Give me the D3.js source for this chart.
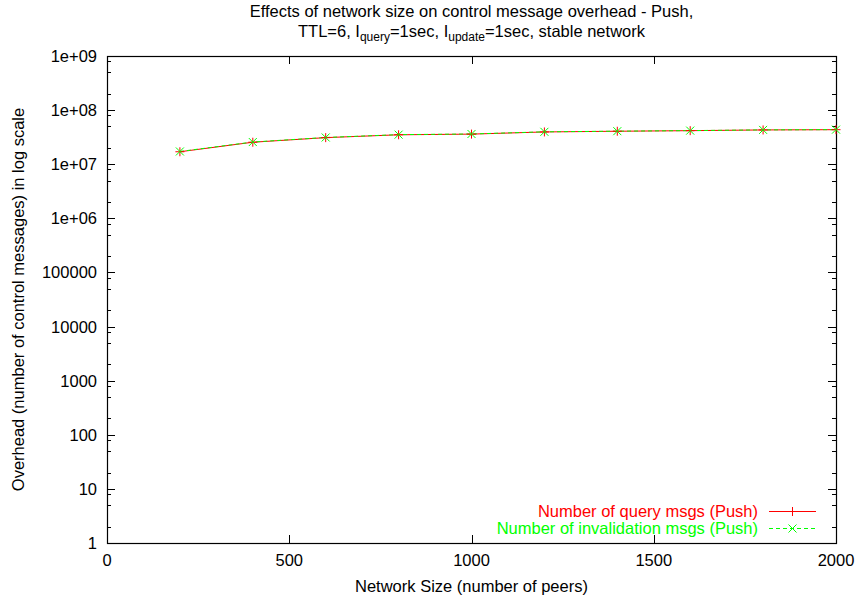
<!DOCTYPE html>
<html>
<head>
<meta charset="utf-8">
<script src="https://cdn.jsdelivr.net/npm/d3@7"></script>
<style>
  body { margin: 0; background: #fff; }
  svg { font-family: "Liberation Sans", Arial, sans-serif; }
</style>
</head>
<body>
<svg id="chart" width="859" height="600"></svg>
<script>
// network sizes (peers)
const networkSizes = [200, 400, 600, 800, 1000, 1200, 1400, 1600, 1800, 2000];
// control message counts
const queryMsgs = [1.7e7, 2.55e7, 3.1e7, 3.5e7, 3.6e7, 3.95e7, 4.07e7, 4.17e7, 4.3e7, 4.35e7];
const invalidationMsgs = [1.72e7, 2.57e7, 3.12e7, 3.52e7, 3.62e7, 3.97e7, 4.08e7, 4.18e7, 4.31e7, 4.36e7];

const xTicks = [0, 500, 1000, 1500, 2000];
const yTicks = [1, 10, 100, 1000, 10000, 100000, 1e6, 1e7, 1e8, 1e9];
const yTickLabels = ["1", "10", "100", "1000", "10000", "100000", "1e+06", "1e+07", "1e+08", "1e+09"];

const svg = d3.select("#chart");
const pLeft = 107, pRight = 836, pTop = 56, pBottom = 543;
const fs = 16.5;

const x = d3.scaleLinear().domain([0, 2000]).range([pLeft, pRight]);
const y = d3.scaleLog().domain([1, 1e9]).range([pBottom, pTop]);

// minor ticks at 2, 5, 8 of each decade (as in the original plot)
const minor = [];
for (let e = 0; e < 9; e++) {
  [2, 5, 8].forEach(m => minor.push(m * Math.pow(10, e)));
}

// y axis ticks, left and right
const gy = svg.append("g").attr("stroke", "#000").attr("stroke-width", 1);
yTicks.forEach(v => {
  const py = Math.round(y(v)) + 0.5;
  gy.append("line").attr("x1", pLeft).attr("x2", pLeft + 8).attr("y1", py).attr("y2", py);
  gy.append("line").attr("x1", pRight - 8).attr("x2", pRight).attr("y1", py).attr("y2", py);
});
minor.forEach(v => {
  const py = Math.round(y(v)) + 0.5;
  gy.append("line").attr("x1", pLeft).attr("x2", pLeft + 4).attr("y1", py).attr("y2", py);
  gy.append("line").attr("x1", pRight - 4).attr("x2", pRight).attr("y1", py).attr("y2", py);
});
svg.append("g").selectAll("text").data(yTicks).join("text")
  .attr("x", 97).attr("y", d => y(d) + 6)
  .attr("text-anchor", "end").attr("font-size", fs).attr("fill", "#000")
  .text((d, i) => yTickLabels[i]);

// x axis ticks, bottom and top
const gx = svg.append("g").attr("stroke", "#000").attr("stroke-width", 1);
xTicks.forEach(v => {
  const px = Math.round(x(v)) + 0.5;
  gx.append("line").attr("x1", px).attr("x2", px).attr("y1", pBottom).attr("y2", pBottom - 8);
  gx.append("line").attr("x1", px).attr("x2", px).attr("y1", pTop).attr("y2", pTop + 8);
});
svg.append("g").selectAll("text").data(xTicks).join("text")
  .attr("x", d => x(d)).attr("y", 566)
  .attr("text-anchor", "middle").attr("font-size", fs).attr("fill", "#000")
  .text(d => d);

// frame
svg.append("rect")
  .attr("x", pLeft + 0.5).attr("y", pTop + 0.5)
  .attr("width", pRight - pLeft).attr("height", pBottom - pTop)
  .attr("fill", "none").attr("stroke", "#000").attr("stroke-width", 1.2);

// series
const line = d3.line().x(d => x(d[0])).y(d => y(d[1]));
const q = networkSizes.map((n, i) => [n, queryMsgs[i]]);
const inv = networkSizes.map((n, i) => [n, invalidationMsgs[i]]);

svg.append("path").datum(q).attr("d", line)
  .attr("fill", "none").attr("stroke", "#ff0000").attr("stroke-width", 1);
svg.append("path").datum(inv).attr("d", line)
  .attr("fill", "none").attr("stroke", "#00ff00").attr("stroke-width", 1)
  .attr("stroke-dasharray", "4,3");

function plus(g, px, py, c) {
  g.append("line").attr("x1", px - 4.5).attr("x2", px + 4.5).attr("y1", py).attr("y2", py).attr("stroke", c);
  g.append("line").attr("x1", px).attr("x2", px).attr("y1", py - 4.5).attr("y2", py + 4.5).attr("stroke", c);
}
function cross(g, px, py, c) {
  g.append("line").attr("x1", px - 4).attr("x2", px + 4).attr("y1", py - 4).attr("y2", py + 4).attr("stroke", c);
  g.append("line").attr("x1", px - 4).attr("x2", px + 4).attr("y1", py + 4).attr("y2", py - 4).attr("stroke", c);
}
const gm = svg.append("g").attr("stroke-width", 1);
q.forEach(d => plus(gm, x(d[0]), y(d[1]), "#ff0000"));
inv.forEach(d => cross(gm, x(d[0]), y(d[1]), "#00ff00"));

// legend
const lg = svg.append("g");
lg.append("text").attr("x", 758).attr("y", 517).attr("text-anchor", "end")
  .attr("font-size", fs).attr("fill", "#ff0000").text("Number of query msgs (Push)");
lg.append("line").attr("x1", 769).attr("x2", 816).attr("y1", 511.5).attr("y2", 511.5)
  .attr("stroke", "#ff0000");
plus(lg, 792.5, 511.5, "#ff0000");
lg.append("text").attr("x", 758).attr("y", 534).attr("text-anchor", "end")
  .attr("font-size", fs).attr("fill", "#00ff00").text("Number of invalidation msgs (Push)");
lg.append("line").attr("x1", 769).attr("x2", 816).attr("y1", 528.5).attr("y2", 528.5)
  .attr("stroke", "#00ff00").attr("stroke-dasharray", "4,3");
cross(lg, 792.5, 528.5, "#00ff00");

// title
svg.append("text").attr("x", 471.5).attr("y", 17).attr("text-anchor", "middle")
  .attr("font-size", fs).attr("fill", "#000")
  .text("Effects of network size on control message overhead - Push,");
const t2 = svg.append("text").attr("x", 471.5).attr("y", 36.5).attr("text-anchor", "middle")
  .attr("font-size", fs).attr("fill", "#000");
t2.append("tspan").text("TTL=6, I");
t2.append("tspan").attr("font-size", 12).attr("dy", 4).text("query");
t2.append("tspan").attr("dy", -4).text("=1sec, I");
t2.append("tspan").attr("font-size", 12).attr("dy", 4).text("update");
t2.append("tspan").attr("dy", -4).text("=1sec, stable network");

// axis titles
svg.append("text").attr("x", 471.5).attr("y", 592).attr("text-anchor", "middle")
  .attr("font-size", fs).attr("fill", "#000").text("Network Size (number of peers)");
svg.append("text")
  .attr("transform", "translate(24," + ((pTop + pBottom) / 2) + ") rotate(-90)")
  .attr("text-anchor", "middle").attr("font-size", fs).attr("fill", "#000")
  .text("Overhead (number of control messages) in log scale");
</script>
</body>
</html>
